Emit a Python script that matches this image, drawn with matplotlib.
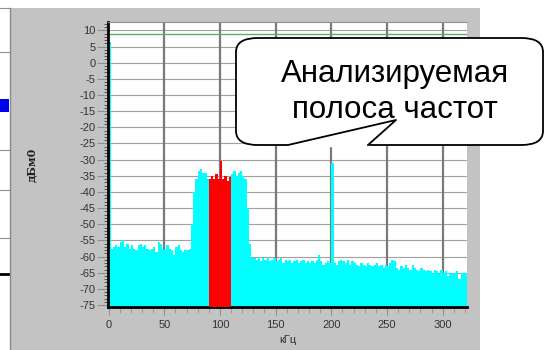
import numpy as np
import matplotlib
matplotlib.use("Agg")
import matplotlib.pyplot as plt
from matplotlib.patches import Rectangle, FancyBboxPatch
from matplotlib.lines import Line2D

W, H = 545, 350

# уровень спектра, дБм0, шаг 2 кГц начиная с 0
level = [
    6.5,
    -57.5, -57, -56.5, -57, -55.5, -55, -57, -56, -57.5, -56.5,
    -57.5, -58, -56.5, -56, -57, -56.5, -57.5, -58, -57.5, -57,
    -58.5, -55.5, -56, -57.5, -58, -56.5, -57.5, -58, -59.5, -57,
    -56.5, -58, -58.5, -58, -58, -57.5,
    -50, -40, -36, -33.5, -33, -34, -34, -36,
    -36, -35, -36, -34.5, -36, -30.5, -36, -35, -36.5, -35.5,
    -34.5, -33.5, -35, -34, -33.5, -35, -36, -45, -56, -60.5,
    -60.5, -61, -60, -61.5, -60.5, -61, -60, -61.5, -61, -60.5,
    -61.5, -61, -60.5, -62, -61, -61.5, -61, -62, -61.5, -61,
    -62, -61.5, -61, -62, -61.5, -62, -61.5, -62, -61, -59.5,
    -61.5, -62.5, -62, -61.5, -62,
    -31, -62, -62.5, -61.5, -61, -61.5, -62, -61, -62.5, -61.5,
    -62, -62.5, -63, -62, -62.5, -63, -62, -62.5, -63, -62.5,
    -62, -63, -62.5, -63.5, -62.5, -63, -62, -61, -61.5, -63.5,
    -64, -63, -63.5, -62.5, -63.5, -64, -62.5, -63.5, -64, -64.5,
    -63.5, -64, -64.5, -64, -64.5, -65, -64, -64.5, -65.5, -64,
    -65, -64.5, -66, -65, -65.5, -65, -64.5, -67, -65, -65,
    -65, -65,
]
freq = np.arange(len(level)) * 2
band = (89, 109)          # анализируемая полоса, кГц
ref_level = 9             # зелёная линия
y_ticks = list(range(10, -80, -5))
x_ticks = [0, 50, 100, 150, 200, 250, 300]


def fx(x):
    return x / W


def fy(y):
    return 1 - y / H


fig = plt.figure(figsize=(W / 100, H / 100), dpi=100)
fig.patch.set_facecolor("white")

# серая панель окна
fig.add_artist(Rectangle((fx(10), 0), fx(470), fy(8), transform=fig.transFigure,
                         facecolor="#c3c3c3", edgecolor="none", zorder=0))
# кусок соседнего графика слева
for yy in [8, 52, 150, 190, 238]:
    fig.add_artist(Line2D([0, fx(9)], [fy(yy), fy(yy)], transform=fig.transFigure,
                          color="#909090", lw=0.8))
fig.add_artist(Line2D([0, fx(9)], [fy(274), fy(274)], transform=fig.transFigure,
                      color="black", lw=2))
fig.add_artist(Rectangle((0, fy(112)), fx(9), fy(99) - fy(112), transform=fig.transFigure,
                         facecolor="#0000ee", edgecolor="none"))
fig.add_artist(Line2D([fx(9.5), fx(9.5)], [0, fy(8)], transform=fig.transFigure,
                      color="#8a8a8a", lw=1))

ax = fig.add_axes([fx(108), fy(307), fx(467 - 108), fy(22) - fy(307)])
ax.set_facecolor("white")
ax.set_xlim(-0.5, 321.8)
ax.set_ylim(-75.6, 12.6)

lv = np.array(level)
bottom = -76
ax.bar(freq, lv - bottom, bottom=bottom, width=2, align="edge",
       color="#00ffff", linewidth=0, zorder=2)
in_band = (freq > band[0]) & (freq < band[1])
ax.bar(freq[in_band], lv[in_band] - bottom, bottom=bottom, width=2, align="edge",
       color="#ff0000", linewidth=0, zorder=3)

for v in y_ticks:
    ax.axhline(v, color="#a0a0a0", lw=0.8, zorder=1)
for v in x_ticks[1:]:
    ax.axvline(v, color="#7a7a7a", lw=1.6, zorder=1)
ax.axhline(ref_level, color="#5fae5f", lw=1.0, zorder=1)

ax.set_yticks(y_ticks)
ax.set_yticklabels([str(v) for v in y_ticks])
ax.set_yticks(np.arange(-75, 13, 1), minor=True)
ax.set_xticks(x_ticks)
ax.set_xticks(np.arange(0, 321, 10), minor=True)
ax.tick_params(axis="y", which="major", length=8, width=0.8, color="#909090",
               labelsize=8, labelcolor="#333333", pad=1)
ax.tick_params(axis="y", which="minor", length=3, width=0.6, color="#444444")
ax.tick_params(axis="x", which="major", length=6, width=0.8, color="#909090",
               labelsize=8, labelcolor="#333333", pad=3)
ax.tick_params(axis="x", which="minor", length=4, width=0.6, color="#909090")
for lab in ax.get_xticklabels() + ax.get_yticklabels():
    lab.set_family("Liberation Sans")

ax.spines["left"].set_linewidth(2)
ax.spines["left"].set_color("black")
ax.spines["bottom"].set_linewidth(2)
ax.spines["bottom"].set_color("black")
ax.spines["right"].set_visible(False)
ax.spines["top"].set_color("#909090")
ax.spines["top"].set_linewidth(0.8)

fig.text(fx(288), fy(340), "кГц", ha="center", va="center", fontsize=8,
         color="#333333", family="Liberation Sans")
fig.text(fx(32), fy(165), "дБм0", rotation=90, ha="center", va="center",
         fontsize=8, family="DejaVu Serif", fontweight="bold", color="#222222")

# выноска
box = FancyBboxPatch((fx(236), fy(145)), fx(543 - 236), fy(38) - fy(145),
                     boxstyle="round,pad=0,rounding_size=0.04",
                     transform=fig.transFigure, facecolor="white",
                     edgecolor="black", lw=1.3, zorder=10)
fig.add_artist(box)
fig.add_artist(Line2D([fx(289), fx(367)], [fy(145), fy(145)], transform=fig.transFigure,
                      color="white", lw=2.5, zorder=11))
fig.add_artist(Line2D([fx(288), fx(396), fx(368)], [fy(145), fy(120), fy(145)],
                      transform=fig.transFigure, color="black", lw=1.3, zorder=12))
fig.text(fx(395), fy(74), "Анализируемая", ha="center", va="center", fontsize=22.5,
         family="Liberation Sans", zorder=13)
fig.text(fx(395), fy(110), "полоса частот", ha="center", va="center", fontsize=22.5,
         family="Liberation Sans", zorder=13)

fig.savefig("out.png", dpi=100)
